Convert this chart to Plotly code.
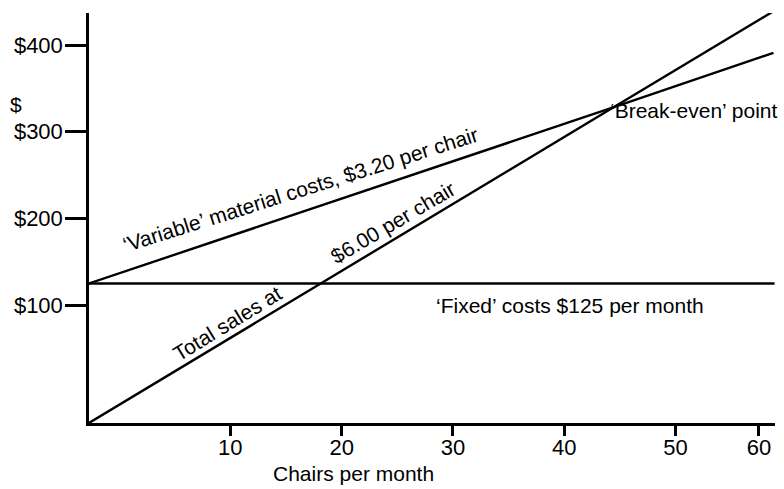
import plotly.graph_objects as go

# ---- data ----
sales_x = [-2.7, 18.1, 44.4, 58.8]
sales_y = [-36, 125, 328, 439]

variable_x = [-2.7, 44.4, 58.8]
variable_y = [125, 328, 391]

fixed_x = [-2.7, 58.9]
fixed_y = [125, 125]

x_tick_vals = [10, 20, 30, 40, 50, 57.5]
x_tick_text = ["10", "20", "30", "40", "50", "60"]
y_tick_vals = [100, 200, 300, 400]
y_tick_text = ["$100", "$200", "$300", "$400"]

FONT = "Liberation Sans, Arial, sans-serif"
line_style = dict(color="black", width=2.4)

fig = go.Figure()
for xs, ys in [(fixed_x, fixed_y), (variable_x, variable_y), (sales_x, sales_y)]:
    fig.add_trace(go.Scatter(x=xs, y=ys, mode="lines", line=line_style,
                             hoverinfo="skip", showlegend=False))

ann_font = dict(family=FONT, size=21, color="black")
annotations = [
    dict(x=16.3, y=233, text="\u2018Variable\u2019 material costs, $3.20 per chair", textangle=-17.5),
    dict(x=9.7, y=79, text="Total sales at", textangle=-31.5),
    dict(x=24.6, y=195, text="$6.00 per chair", textangle=-30.5),
    dict(x=40.5, y=100, text="\u2018Fixed\u2019 costs $125 per month", textangle=0),
    dict(x=43.9, y=325, text="\u2018Break-even\u2019 point", textangle=0, xanchor="left"),
]
for a in annotations:
    fig.add_annotation(xref="x", yref="y", showarrow=False, font=ann_font,
                       xanchor=a.get("xanchor", "center"), yanchor="middle",
                       x=a["x"], y=a["y"], text=a["text"], textangle=a["textangle"])

fig.add_annotation(xref="paper", yref="paper", x=-0.118, y=0.776, text="$",
                   showarrow=False, xanchor="left", yanchor="middle",
                   font=dict(family=FONT, size=21, color="black"))
fig.add_annotation(xref="paper", yref="paper", x=0.386, y=-0.124, text="Chairs per month",
                   showarrow=False, xanchor="center", yanchor="middle",
                   font=dict(family=FONT, size=21, color="black"))

fig.update_xaxes(range=[-2.7, 58.94], showgrid=False, zeroline=False,
                 showline=True, linecolor="black", linewidth=2.5,
                 ticks="outside", ticklen=10, tickwidth=2.5, tickcolor="black",
                 tickvals=x_tick_vals, ticktext=x_tick_text, ticklabelstandoff=-7,
                 tickfont=dict(family=FONT, size=22, color="black"))
fig.update_yaxes(range=[-36, 437], showgrid=False, zeroline=False,
                 showline=True, linecolor="black", linewidth=2.5,
                 ticks="outside", ticklen=21, tickwidth=2.5, tickcolor="black",
                 tickvals=y_tick_vals, ticktext=y_tick_text, ticklabelstandoff=-2,
                 tickfont=dict(family=FONT, size=22, color="black"))

fig.update_layout(width=784, height=489, margin=dict(l=89, r=9, t=13, b=66),
                  paper_bgcolor="white", plot_bgcolor="white")

# remove the default page margin so the 784x489 figure fills the window exactly
fig.write_html("out.html", config={"displayModeBar": False},
               post_script="document.body.style.margin='0';document.body.style.overflow='hidden';")
